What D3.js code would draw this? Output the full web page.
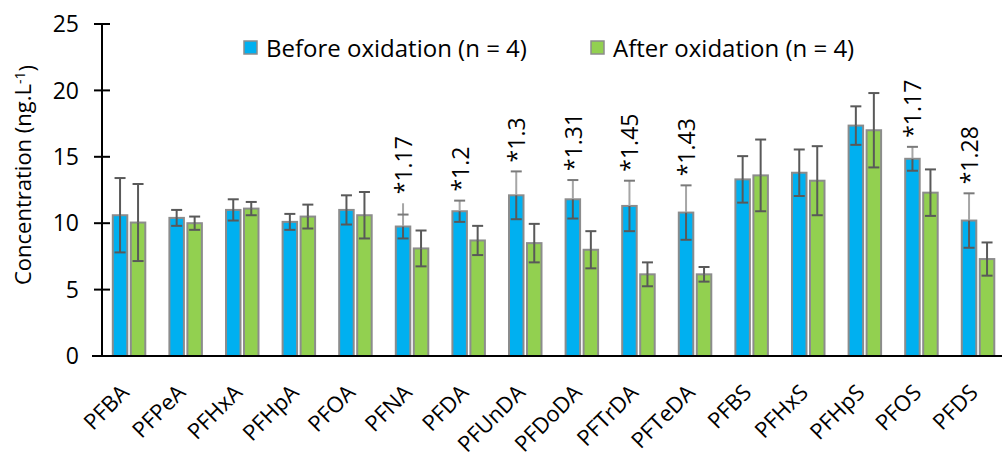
<!DOCTYPE html>
<html>
<head>
<meta charset="utf-8">
<script src="https://cdn.jsdelivr.net/npm/d3@7"></script>
<style>
  body { margin: 0; background: #fff; }
  svg { display: block; font-family: "Open Sans", Lato, sans-serif; }
</style>
</head>
<body>
<div class="viz"></div>
<script>
const width = 1002;
const height = 461;

// data
const compounds = ["PFBA", "PFPeA", "PFHxA", "PFHpA", "PFOA", "PFNA", "PFDA", "PFUnDA",
    "PFDoDA", "PFTrDA", "PFTeDA", "PFBS", "PFHxS", "PFHpS", "PFOS", "PFDS"];
const before = [10.6, 10.4, 11.0, 10.1, 11.0, 9.75, 10.9, 12.1, 11.8, 11.3, 10.8, 13.3, 13.8, 17.35, 14.85, 10.2];
const beforeErr = [2.8, 0.6, 0.8, 0.6, 1.1, 0.9, 0.8, 1.8, 1.45, 1.9, 2.05, 1.75, 1.75, 1.45, 0.9, 2.05];
const after = [10.05, 10.0, 11.1, 10.5, 10.6, 8.1, 8.7, 8.5, 8.0, 6.15, 6.15, 13.6, 13.2, 17.0, 12.3, 7.3];
const afterErr = [2.9, 0.5, 0.5, 0.9, 1.75, 1.35, 1.1, 1.45, 1.4, 0.9, 0.55, 2.7, 2.6, 2.8, 1.75, 1.25];
const ratios = [null, null, null, null, null, "1.17", "1.2", "1.3", "1.31", "1.45", "1.43",
    null, null, null, "1.17", "1.28"];
const pfnaLeader = 11.5;   // the PFNA whisker line runs up past its cap
const yTicks = [0, 5, 10, 15, 20, 25];
const seriesNames = ["Before oxidation (n = 4)", "After oxidation (n = 4)"];

const blue = "#00b0f0";
const green = "#92d050";
const barEdge = "#8c8c8c";
const errDark = "#595959";
const errLight = "#a6a6a6";

const svg = d3.select(".viz")
    .append("svg")
    .attr("width", width)
    .attr("height", height);

const x = d3.scaleBand()
    .domain(compounds)
    .range([101, 101 + 16 * 56.6]);

const y = d3.scaleLinear()
    .domain([0, 25])
    .range([356, 24]);

const rows = compounds.map((c, i) => ({
    name: c, before: before[i], beforeErr: beforeErr[i],
    after: after[i], afterErr: afterErr[i], ratio: ratios[i]
}));

const mid = d => x(d.name) + x.bandwidth() / 2;
const barW = 14.5;

// bars
const g = svg.append("g");
g.selectAll(".bBar")
    .data(rows)
    .enter()
    .append("rect")
    .attr("x", d => mid(d) - 16.5)
    .attr("y", d => y(d.before))
    .attr("width", barW)
    .attr("height", d => y(0) - y(d.before))
    .style("fill", blue)
    .style("stroke", barEdge)
    .style("stroke-width", 2);

g.selectAll(".aBar")
    .data(rows)
    .enter()
    .append("rect")
    .attr("x", d => mid(d) + 1.5)
    .attr("y", d => y(d.after))
    .attr("width", barW)
    .attr("height", d => y(0) - y(d.after))
    .style("fill", green)
    .style("stroke", barEdge)
    .style("stroke-width", 2);

// error bars
function whisker(cx, v, e, starred, leader) {
    const top = leader || v + e;
    g.append("line")
        .attr("x1", cx).attr("x2", cx)
        .attr("y1", y(v)).attr("y2", y(top))
        .style("stroke", starred ? errLight : errDark)
        .style("stroke-width", 2);
    g.append("line")
        .attr("x1", cx).attr("x2", cx)
        .attr("y1", y(v)).attr("y2", y(v - e))
        .style("stroke", errDark)
        .style("stroke-width", 2);
    [v + e, v - e].forEach(t => {
        g.append("line")
            .attr("x1", cx - 5.5).attr("x2", cx + 5.5)
            .attr("y1", y(t)).attr("y2", y(t))
            .style("stroke", starred && t > v ? "#7a7a7a" : errDark)
            .style("stroke-width", 2);
    });
}

rows.forEach(d => {
    const bx = mid(d) - 16.5 + barW / 2;
    const ax = mid(d) + 1.5 + barW / 2;
    whisker(bx, d.before, d.beforeErr, !!d.ratio, d.name === "PFNA" ? pfnaLeader : null);
    whisker(ax, d.after, d.afterErr, false, null);
});

// ratio labels above the starred bars
rows.filter(d => d.ratio).forEach(d => {
    const bx = mid(d) - 16.5 + barW / 2;
    const top = d.name === "PFNA" ? pfnaLeader : d.before + d.beforeErr;
    g.append("text")
        .attr("transform", `translate(${bx + 9},${y(top) - 9}) rotate(-90)`)
        .attr("text-anchor", "start")
        .style("font-size", "23px")
        .style("fill", "#000")
        .text("*" + d.ratio);
});

// y axis
const yAxis = svg.append("g");
yAxis.append("line")
    .attr("x1", 102).attr("x2", 102)
    .attr("y1", y(25)).attr("y2", y(0))
    .style("stroke", "#000").style("stroke-width", 2);
yAxis.selectAll(".tick")
    .data(yTicks)
    .enter()
    .append("line")
    .attr("x1", 94).attr("x2", 110)
    .attr("y1", d => y(d)).attr("y2", d => y(d))
    .style("stroke", "#000").style("stroke-width", 2);
yAxis.selectAll(".tickLabel")
    .data(yTicks)
    .enter()
    .append("text")
    .attr("x", 79)
    .attr("y", d => y(d))
    .attr("dy", "0.36em")
    .attr("text-anchor", "end")
    .style("font-size", "23px")
    .text(d => d);

// x axis line
svg.append("line")
    .attr("x1", 92).attr("x2", width)
    .attr("y1", y(0)).attr("y2", y(0))
    .style("stroke", "#000").style("stroke-width", 2);

// category labels
svg.selectAll(".catLabel")
    .data(rows)
    .enter()
    .append("text")
    .attr("transform", d => `translate(${mid(d) + 1},${394}) rotate(-45)`)
    .attr("text-anchor", "end")
    .style("font-size", "22px")
    .text(d => d.name);

// y title
const title = svg.append("text")
    .attr("transform", "translate(31,175) rotate(-90)")
    .attr("text-anchor", "middle")
    .style("font-size", "22px");
title.append("tspan").text("Concentration (ng.L");
title.append("tspan").attr("dy", "-0.45em").style("font-size", "14px").text("-1");
title.append("tspan").attr("dy", "0.45em").text(")");

// legend
const legend = svg.append("g");
[[244, blue], [591, green]].forEach(([lx, col], i) => {
    legend.append("rect")
        .attr("x", lx).attr("y", 41)
        .attr("width", 13).attr("height", 13)
        .style("fill", col)
        .style("stroke", barEdge)
        .style("stroke-width", 1.5);
    legend.append("text")
        .attr("x", lx + 22)
        .attr("y", 48)
        .attr("dy", "0.36em")
        .style("font-size", "24px")
        .text(seriesNames[i]);
});
</script>
</body>
</html>
